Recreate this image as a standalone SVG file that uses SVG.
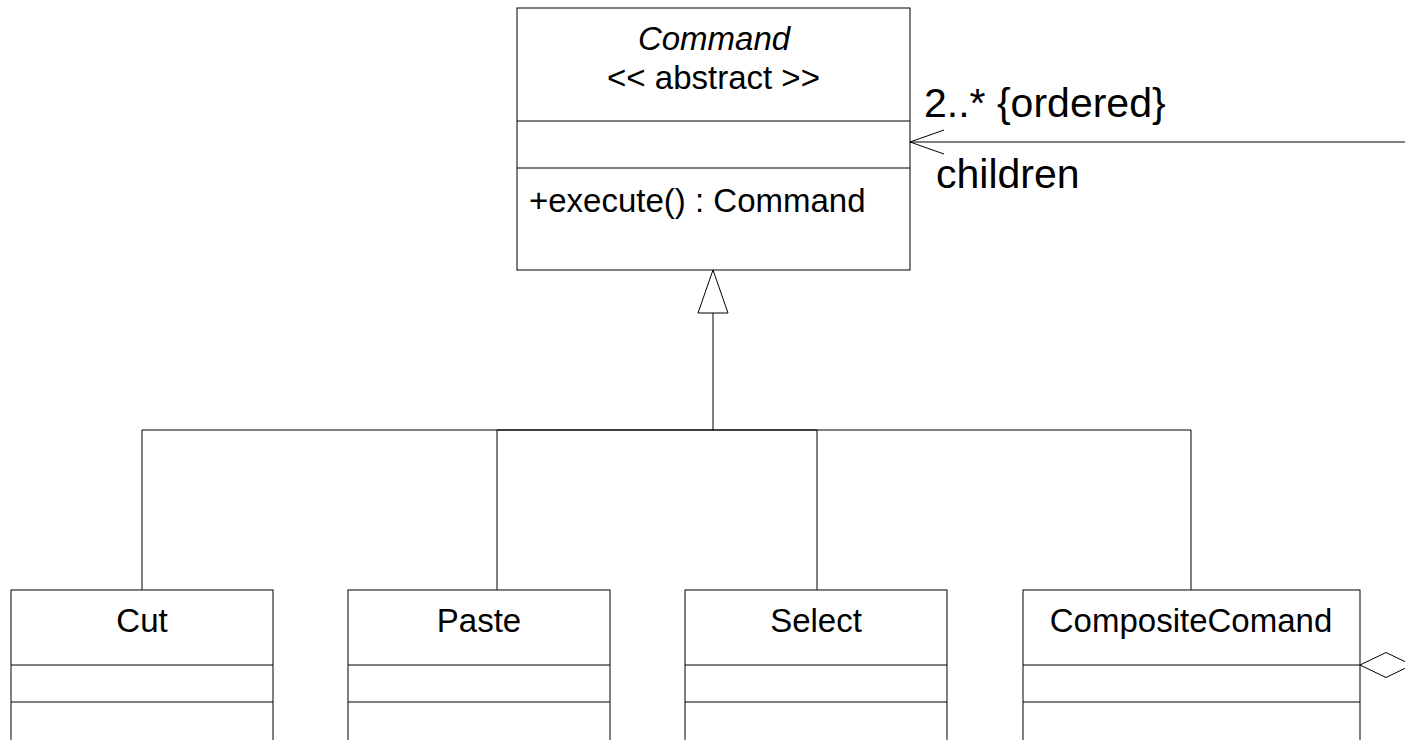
<svg xmlns="http://www.w3.org/2000/svg" width="1405" height="740" viewBox="0 0 1405 740">
<style>
.box{fill:#fff;stroke:#000;stroke-width:1}
.sep{stroke:#000;stroke-width:1}
.t{font-family:"Liberation Sans",Arial,sans-serif;font-size:33px;fill:#000}
.c{text-anchor:middle}
.lbl{font-family:"Liberation Sans",Arial,sans-serif;font-size:41px;fill:#000}
.ln{fill:none;stroke:#000;stroke-width:1}
</style>
<rect width="1405" height="740" fill="#fff"/>
<g id="connectors">
<polyline class="ln" points="142,590 142,430 713,430 713,313"/>
<polyline class="ln" points="497,590 497,430 713,430"/>
<polyline class="ln" points="817,590 817,430 713,430"/>
<polyline class="ln" points="1191,590 1191,430 713,430"/>
<polygon points="713,270 698,313 728,313" fill="#fff" stroke="#000" stroke-width="1"/>
<line class="ln" x1="910" y1="142" x2="1405" y2="142"/>
<polyline class="ln" points="944,130 910,142 944,154"/>
<polygon points="1360,665 1386,652.5 1412,665 1386,677.5" fill="#fff" stroke="#000" stroke-width="1"/>
<text class="lbl" x="924" y="117">2..* {ordered}</text>
<text class="lbl" x="936" y="188">children</text>
</g>
<g id="Command">
<rect class="box" x="517" y="8" width="393" height="262"/>
<line class="sep" x1="517" y1="121" x2="910" y2="121"/>
<line class="sep" x1="517" y1="168" x2="910" y2="168"/>
<text class="t c" x="714" y="50" font-style="italic">Command</text>
<text class="t c" x="713.5" y="89">&lt;&lt; abstract &gt;&gt;</text>
<text class="t" x="529" y="212">+execute() : Command</text>
</g>
<g id="Cut">
<rect class="box" x="11" y="590" width="262" height="170"/>
<line class="sep" x1="11" y1="665" x2="273" y2="665"/>
<line class="sep" x1="11" y1="702" x2="273" y2="702"/>
<text class="t c" x="142" y="632">Cut</text>
</g>
<g id="Paste">
<rect class="box" x="348" y="590" width="262" height="170"/>
<line class="sep" x1="348" y1="665" x2="610" y2="665"/>
<line class="sep" x1="348" y1="702" x2="610" y2="702"/>
<text class="t c" x="479" y="632">Paste</text>
</g>
<g id="Select">
<rect class="box" x="685" y="590" width="262" height="170"/>
<line class="sep" x1="685" y1="665" x2="947" y2="665"/>
<line class="sep" x1="685" y1="702" x2="947" y2="702"/>
<text class="t c" x="816" y="632">Select</text>
</g>
<g id="CompositeComand">
<rect class="box" x="1023" y="590" width="337" height="170"/>
<line class="sep" x1="1023" y1="665" x2="1360" y2="665"/>
<line class="sep" x1="1023" y1="702" x2="1360" y2="702"/>
<text class="t c" x="1191" y="632">CompositeComand</text>
</g>
</svg>
